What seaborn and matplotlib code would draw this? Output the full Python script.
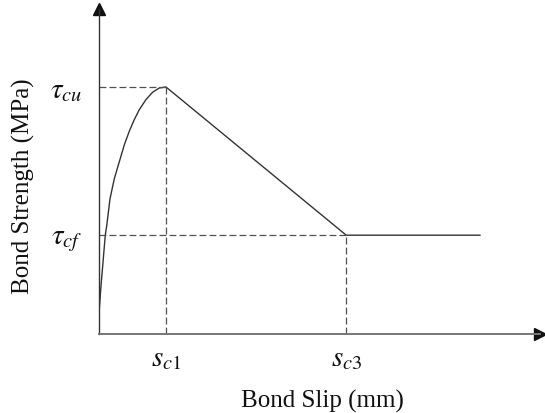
import matplotlib
matplotlib.use("Agg")
import matplotlib.pyplot as plt
import seaborn as sns
import pandas as pd

# Characteristic points of the bond-slip law (normalised units)
s_c1 = 1.0
s_c3 = 3.69
s_end = 5.69
tau_cu = 1.0
tau_cf = 0.40

# Ascending branch
asc_slip = [0.0, 0.0045, 0.030, 0.064, 0.094, 0.115, 0.164, 0.228, 0.306,
            0.378, 0.452, 0.527, 0.601, 0.701, 0.801, 0.900, 1.0]
asc_tau = [0.0, 0.101, 0.196, 0.304, 0.401, 0.438, 0.547, 0.628, 0.700,
           0.766, 0.821, 0.868, 0.908, 0.949, 0.979, 0.996, 1.0]

# Softening and residual branches
soft_slip = [s_c1, s_c3, s_end]
soft_tau = [tau_cu, tau_cf, tau_cf]

x_ticks = [s_c1, s_c3]
x_tick_labels = [r"$s_{c1}$", r"$s_{c3}$"]
y_ticks = [tau_cf, tau_cu]
y_tick_labels = [r"$\tau_{cf}$", r"$\tau_{cu}$"]

sns.set_style("white")
plt.rcParams["font.family"] = ["Liberation Serif", "DejaVu Serif"]
plt.rcParams["mathtext.fontset"] = "stix"

fig = plt.figure(figsize=(5.45, 4.14), dpi=100)
ax = fig.add_axes([99 / 545, 79 / 414, 441 / 545, 325 / 414])

line_col = "#333333"
curve = pd.DataFrame({"slip": asc_slip + soft_slip[1:],
                      "tau": asc_tau + soft_tau[1:]})
sns.lineplot(data=curve, x="slip", y="tau", sort=False, color=line_col,
             linewidth=1.0, ax=ax)

# Guide lines to the characteristic points
dash = dict(color="#505050", linewidth=0.9, linestyle=(0, (5.5, 2.5)))
ax.plot([0, s_c1], [tau_cu, tau_cu], **dash)
ax.plot([s_c1, s_c1], [0, tau_cu], **dash)
ax.plot([0, s_c3], [tau_cf, tau_cf], **dash)
ax.plot([s_c3, s_c3], [0, tau_cf], **dash)

ax.set_xlim(0, 441 / 67)
ax.set_ylim(0, 325 / 247)

for side in ("top", "right"):
    ax.spines[side].set_visible(False)
ax.spines["left"].set_color("#333333")
ax.spines["bottom"].set_color("#777777")
ax.spines["left"].set_linewidth(1.0)
ax.spines["bottom"].set_linewidth(1.4)

# Arrow heads at the ends of the axes
ax.plot(1, 0, ">", color="#111111", markersize=8, transform=ax.transAxes,
        clip_on=False)
ax.plot(0, 1, "^", color="#111111", markersize=8, transform=ax.transAxes,
        clip_on=False)

ax.set_xticks(x_ticks)
ax.set_xticklabels(x_tick_labels, fontsize=21)
ax.set_yticks(y_ticks)
ax.set_yticklabels(y_tick_labels, fontsize=21)
ax.tick_params(axis="both", length=0, colors="#111111")
ax.tick_params(axis="x", pad=8)
ax.tick_params(axis="y", pad=12)

ax.set_xlabel("Bond Slip (mm)", fontsize=18, color="#111111")
ax.set_ylabel("Bond Strength (MPa)", fontsize=18, color="#111111")
ax.yaxis.set_label_coords(-0.145, 0.458)
ax.xaxis.set_label_coords(0.506, -0.168)

fig.savefig("out.png", dpi=100)
